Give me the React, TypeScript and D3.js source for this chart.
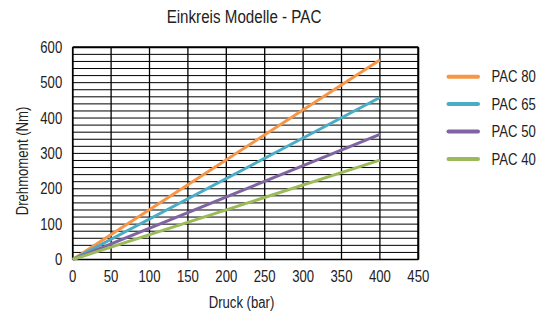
import React from "react";
import * as d3 from "d3";

// values
const pressure = [0, 400];
const seriesNames = ["PAC 80", "PAC 65", "PAC 50", "PAC 40"];
const pac80 = [0, 564];
const pac65 = [0, 458];
const pac50 = [0, 354];
const pac40 = [0, 281];
const colors = ["#F79646", "#4BACC6", "#8064A2", "#9BBB59"];
const xTickLabels = [0, 50, 100, 150, 200, 250, 300, 350, 400, 450];
const yTickLabels = [0, 100, 200, 300, 400, 500, 600];

const W = 551;
const H = 315;
const margin = { top: 47.3, right: 132.7, bottom: 55.5, left: 72.7 };
const font = "'Liberation Sans', Arial, sans-serif";
const SQUEEZE = 0.82; // reference text is a narrow face

// text squeezed horizontally to look like a narrow font
const Txt = ({
  x,
  y,
  size = 16,
  anchor = "start",
  rotate = 0,
  dy,
  children,
}: {
  x: number;
  y: number;
  size?: number;
  anchor?: string;
  rotate?: number;
  dy?: string;
  children: React.ReactNode;
}) => (
  <text
    transform={`translate(${x},${y}) rotate(${rotate}) scale(${SQUEEZE},1)`}
    textAnchor={anchor}
    dy={dy}
    fontFamily={font}
    fontSize={size}
    fill="#222"
  >
    {children}
  </text>
);

export default function App() {
  const innerW = W - margin.left - margin.right;
  const innerH = H - margin.top - margin.bottom;

  const x = d3.scaleLinear().domain([0, 450]).range([0, innerW]);
  const y = d3.scaleLinear().domain([0, 600]).range([innerH, 0]);

  const series = [pac80, pac65, pac50, pac40].map((vals, i) => ({
    name: seriesNames[i],
    color: colors[i],
    points: vals.map((v, j) => [pressure[j], v] as [number, number]),
  }));

  const line = d3
    .line<[number, number]>()
    .x((d) => x(d[0]))
    .y((d) => y(d[1]));

  // minor horizontal grid every 20 Nm
  const hGrid = d3.range(0, 601, 20);

  return (
    <svg
      width={W}
      height={H}
      style={{ position: "absolute", left: 0, top: 0, background: "#fff" }}
    >
      <Txt x={244} y={23} size={18.5} anchor="middle">
        Einkreis Modelle - PAC
      </Txt>

      <g transform={`translate(${margin.left},${margin.top})`}>
        {hGrid.map((t) => (
          <line
            key={"h" + t}
            x1={0}
            x2={innerW}
            y1={y(t)}
            y2={y(t)}
            stroke="#000"
            strokeWidth={1}
          />
        ))}
        {xTickLabels.map((t) => (
          <line
            key={"v" + t}
            x1={x(t)}
            x2={x(t)}
            y1={0}
            y2={innerH}
            stroke="#000"
            strokeWidth={1.3}
          />
        ))}
        {/* frame */}
        <line x1={0} x2={innerW} y1={0} y2={0} stroke="#000" strokeWidth={2} />
        <line x1={innerW} x2={innerW} y1={0} y2={innerH} stroke="#000" strokeWidth={2} />
        <line x1={0} x2={0} y1={0} y2={innerH} stroke="#000" strokeWidth={1.6} />
        <line x1={0} x2={innerW} y1={innerH} y2={innerH} stroke="#000" strokeWidth={1.6} />

        {series.map((s) => (
          <path
            key={s.name}
            d={line(s.points) || ""}
            fill="none"
            stroke={s.color}
            strokeWidth={3}
          />
        ))}

        {xTickLabels.map((t) => (
          <Txt key={"xl" + t} x={x(t)} y={innerH + 22} anchor="middle">
            {t}
          </Txt>
        ))}
        {yTickLabels.map((t) => (
          <Txt key={"yl" + t} x={-10.5} y={y(t)} dy="0.35em" anchor="end">
            {t}
          </Txt>
        ))}

        <Txt x={innerW / 2 - 4} y={innerH + 48.5} anchor="middle">
          Druck (bar)
        </Txt>
      </g>

      <text
        transform={`translate(28,161) rotate(-90) scale(${SQUEEZE},1)`}
        textAnchor="middle"
        fontFamily={font}
        fontSize={16}
        fill="#222"
      >
        Drehmoment (Nm)
      </text>

      <g transform="translate(447,76.7)">
        {series.map((s, i) => (
          <g key={s.name} transform={`translate(0,${i * 27.4})`}>
            <line
              x1={1.5}
              x2={31}
              y1={0}
              y2={0}
              stroke={s.color}
              strokeWidth={4}
              strokeLinecap="round"
            />
            <Txt x={44.5} y={0} dy="0.35em">
              {s.name}
            </Txt>
          </g>
        ))}
      </g>
    </svg>
  );
}
